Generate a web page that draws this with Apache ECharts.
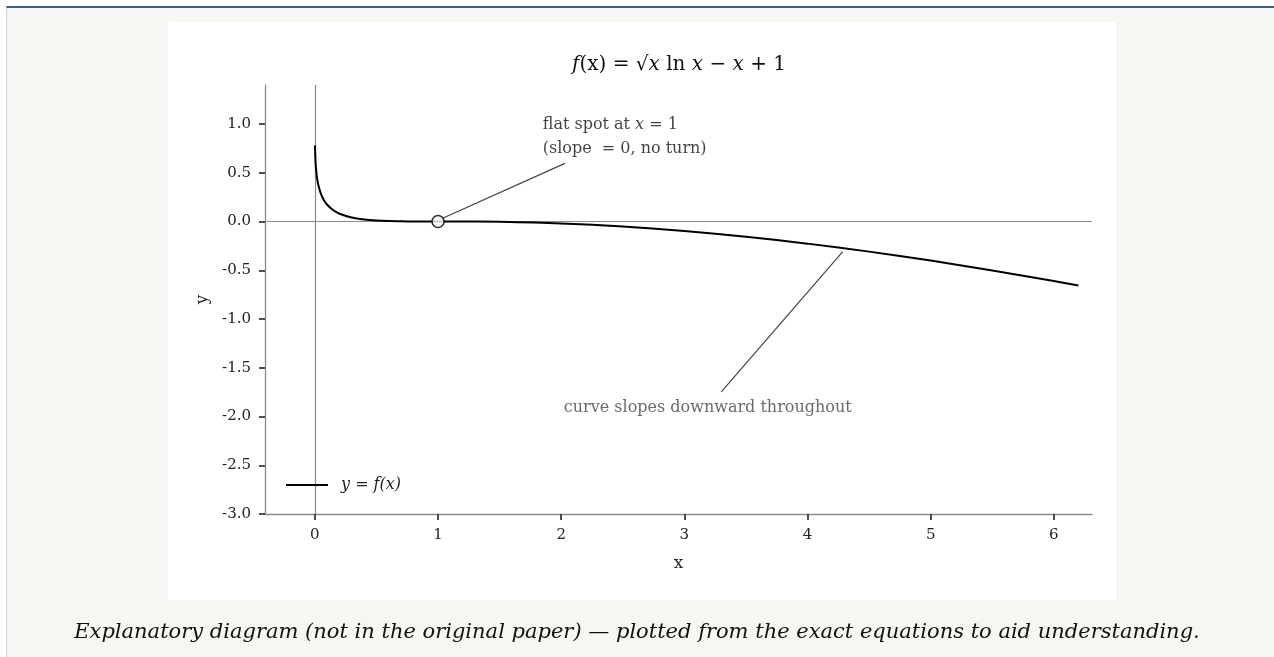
<!DOCTYPE html>
<html>
<head>
<meta charset="utf-8">
<title>f(x) = sqrt(x) ln x - x + 1</title>
<script src="https://cdn.jsdelivr.net/npm/echarts@6/dist/echarts.min.js"></script>
<style>
    html, body { margin: 0; padding: 0; background: #ffffff; }
    .frame {
        position: absolute; left: 6px; top: 6px; right: 0; bottom: 0;
        background: #f7f6f2;
        border-top: 2px solid #3d5a8a;
        border-left: 1px solid #c8d2e2;
    }
    #chart { position: absolute; left: 0; top: 0; width: 1274px; height: 657px; }
</style>
</head>
<body>
<div class="frame"></div>
<div id="chart"></div>
<script>
// points
const curveX = [0.001, 0.005, 0.01, 0.02, 0.03, 0.05, 0.075, 0.1, 0.15, 0.2, 0.3, 0.4, 0.5, 0.6, 0.7, 0.8, 0.9, 1.0,
    1.25, 1.5, 2.0, 2.5, 3.0, 3.5, 4.0, 4.5, 5.0, 5.5, 6.0, 6.2];
const curveY = [0.781, 0.620, 0.530, 0.427, 0.363, 0.280, 0.216, 0.172, 0.115, 0.080, 0.041, 0.021, 0.010, 0.004, 0.002, 0.0004, 0.0001, 0.0,
    -0.001, -0.003, -0.020, -0.051, -0.097, -0.156, -0.227, -0.309, -0.401, -0.502, -0.611, -0.657];

const flatPoint = [1, 0];
const flatLeader = [[1.015, 0.02], [2.03, 0.596]];
const slopeLeader = [[4.286, -0.308], [3.30, -1.747]];

const serif = '"DejaVu Serif", "Liberation Serif", serif';
const gray = '#8a8a8a';
const ink = '#222';

const chart = echarts.init(document.getElementById('chart'));

chart.setOption({
    animation: false,
    textStyle: { fontFamily: serif },
    grid: { left: 265, top: 85, right: 182, bottom: 143 },
    graphic: [
        {
            type: 'rect', z: -10, silent: true,
            shape: { x: 168, y: 22, width: 948, height: 578 },
            style: { fill: '#ffffff' }
        },
        {
            type: 'text', left: 572, top: 55,
            style: {
                text: '{i|f}(x) = √{i|x} ln {i|x} − {i|x} + 1',
                fontFamily: serif, fontSize: 20, fill: '#111',
                rich: { i: { fontStyle: 'italic', fontFamily: serif, fontSize: 20, fill: '#111' } }
            }
        },
        {
            type: 'text', left: 'center', top: 622,
            style: {
                text: 'Explanatory diagram (not in the original paper) — plotted from the exact equations to aid understanding.',
                fontFamily: serif, fontStyle: 'italic', fontSize: 21, fill: '#111'
            }
        }
    ],
    legend: {
        data: [{ name: 'y = f(x)', icon: 'path://M0,0 L42,0 L42,2 L0,2 Z' }],
        left: 281, top: 472,
        itemWidth: 42, itemHeight: 2, itemGap: 10,
        itemStyle: { color: '#000' },
        textStyle: { fontFamily: serif, fontStyle: 'italic', fontSize: 16, color: ink, padding: [0, 0, 0, 8] }
    },
    xAxis: {
        type: 'value',
        position: 'bottom',
        min: -0.405, max: 6.31,
        name: 'x', nameLocation: 'middle', nameGap: 41,
        nameTextStyle: { fontFamily: serif, fontSize: 17, color: ink },
        axisLine: { show: true, onZero: false, lineStyle: { color: gray, width: 1.3 } },
        axisTick: { show: true, inside: false, length: 6, lineStyle: { color: '#222', width: 1.6 } },
        axisLabel: {
            margin: 14, color: ink, fontSize: 15, fontFamily: serif,
            showMinLabel: false, showMaxLabel: false
        },
        splitLine: { show: false }
    },
    yAxis: {
        type: 'value',
        min: -3, max: 1.4, interval: 0.5,
        name: 'y', nameLocation: 'middle', nameGap: 52, nameRotate: 90,
        nameTextStyle: { fontFamily: serif, fontSize: 17, color: ink },
        axisLine: { show: true, onZero: false, lineStyle: { color: gray, width: 1.3 } },
        axisTick: { show: true, inside: false, length: 6, lineStyle: { color: '#222', width: 1.6 } },
        axisLabel: {
            margin: 14, color: ink, fontSize: 15, fontFamily: serif, showMaxLabel: false,
            formatter: (v) => Number(v).toFixed(1)
        },
        splitLine: { show: false }
    },
    series: [
        {
            name: 'y = f(x)',
            type: 'line',
            data: curveX.map((x, i) => [x, curveY[i]]),
            smooth: 0.3,
            symbol: 'none',
            lineStyle: { color: '#000', width: 2 },
            itemStyle: { color: '#000' },
            z: 5,
            markLine: {
                silent: true,
                symbol: 'none',
                label: { show: false },
                lineStyle: { color: gray, width: 1.2, type: 'solid' },
                data: [{ xAxis: 0 }, { yAxis: 0 }],
                z: 1
            }
        },
        {
            name: 'flat leader',
            type: 'line',
            data: flatLeader,
            symbol: 'none',
            lineStyle: { color: '#444', width: 1.2 },
            silent: true,
            z: 4
        },
        {
            name: 'slope leader',
            type: 'line',
            data: slopeLeader,
            symbol: 'none',
            lineStyle: { color: '#444', width: 1.2 },
            silent: true,
            z: 4
        },
        {
            name: 'flat spot',
            type: 'scatter',
            data: [flatPoint],
            symbol: 'circle',
            symbolSize: 12,
            itemStyle: { color: '#fff', borderColor: '#000', borderWidth: 1.6 },
            z: 10
        },
        {
            name: 'notes',
            type: 'scatter',
            symbolSize: 0,
            silent: true,
            data: [
                {
                    value: [1.85, 0.87],
                    label: {
                        show: true, position: 'inside', align: 'left', verticalAlign: 'middle',
                        formatter: 'flat spot at {i|x} = 1\n(slope  = 0, no turn)',
                        fontFamily: serif, fontSize: 16, lineHeight: 24, color: '#111',
                        rich: { i: { fontStyle: 'italic', fontFamily: serif, fontSize: 16, color: '#111' } }
                    }
                },
                {
                    value: [3.19, -1.91],
                    label: {
                        show: true, position: 'inside', align: 'center', verticalAlign: 'middle',
                        formatter: 'curve slopes downward throughout',
                        fontFamily: serif, fontSize: 16, color: '#444'
                    }
                }
            ]
        }
    ]
});
</script>
</body>
</html>
